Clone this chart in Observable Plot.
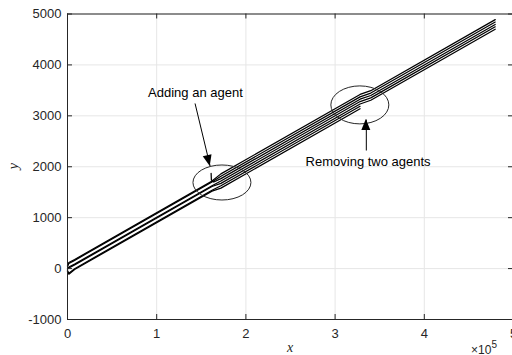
<!DOCTYPE html>
<html>
<head>
<meta charset="utf-8">
<script src="https://cdn.jsdelivr.net/npm/d3@7"></script>
<script src="https://cdn.jsdelivr.net/npm/@observablehq/plot@0.6"></script>
<style>
  html, body { margin: 0; padding: 0; background: #fff; overflow: hidden; }
  svg { display: block; }
</style>
</head>
<body>
<div id="chart"></div>
<script>
// Axis ticks and their labels
const xTicks = [0, 100000, 200000, 300000, 400000, 500000];
const xTickLabels = ["0", "1", "2", "3", "4", "5"];
const yTicks = [-1000, 0, 1000, 2000, 3000, 4000, 5000];
const yTickLabels = ["-1000", "0", "1000", "2000", "3000", "4000", "5000"];

// Trajectories of the original agents (x shared by all of them)
const agentX = [0, 1500, 8000, 162000, 172000, 328000, 340000, 479500];
const agent1Y = [60, 120, 178, 1718, 1860, 3420, 3494, 4889];
const agent2Y = [40, 100, 162, 1702, 1813, 3373, 3447, 4842];
const agent3Y = [0, 30, 88, 1628, 1720, 3280, 3353, 4748];
const agent4Y = [-10, 10, 72, 1612, 1673, 3233, 3306, 4701];
// The two agents removed near x = 3.28e5
const removedX = [0, 1500, 8000, 162000, 172000, 328000];
const agent5Y = [-40, -90, -2, 1538, 1627, 3187];
const agent6Y = [-60, -110, -18, 1522, 1580, 3140];
// The agent added near x = 1.61e5
const addedX = [161000, 161300, 164000, 172000, 328000, 340000, 479500];
const addedY = [1870, 1740, 1700, 1767, 3327, 3400, 4795];

// Annotations: ellipse centres / half-axes, arrows and captions (data units)
const ellipseCenters = [[173700, 1681], [328300, 3205]];
const ellipseHalfAxes = [[32500, 344], [32500, 373]];
const arrowStarts = [[143000, 3243], [335000, 2319]];
const arrowEnds = [[160000, 2006], [335000, 2927]];
const noteTexts = ["Adding an agent", "Removing two agents"];
const notePositions = [[143400, 3458], [337000, 2102]];

const rows = [];
const addLine = (name, xs, ys) => xs.forEach((x, i) => rows.push({agent: name, x, y: ys[i]}));
addLine("a1", agentX, agent1Y);
addLine("a2", agentX, agent2Y);
addLine("a3", agentX, agent3Y);
addLine("a4", agentX, agent4Y);
addLine("a5", removedX, agent5Y);
addLine("a6", removedX, agent6Y);
addLine("a7", addedX, addedY);

const ink = "#262626";
const font = "'Liberation Sans', Arial, Helvetica, sans-serif";
const tickLenY = 98;    // 5 px along y
const tickLenX = 5600;  // 5 px along x

const chart = Plot.plot({
  width: 512,
  height: 355,
  marginTop: 13.5,
  marginBottom: 36,
  marginLeft: 67,
  marginRight: 0,
  style: {fontFamily: font, fontSize: "13px", color: ink, background: "#fff", overflow: "hidden"},
  x: {
    domain: [0, 500000],
    range: [67, 513],
    ticks: xTicks,
    tickFormat: d => xTickLabels[xTicks.indexOf(d)],
    tickSize: 0,
    tickPadding: 9,
    label: null
  },
  y: {
    domain: [-1000, 5000],
    ticks: yTicks,
    tickFormat: d => yTickLabels[yTicks.indexOf(d)],
    tickSize: 0,
    tickPadding: 6,
    label: null
  },
  marks: [
    Plot.ruleX(xTicks, {x: d => d, stroke: "#e6e6e6", strokeWidth: 1}),
    Plot.ruleY(yTicks, {y: d => d, stroke: "#e6e6e6", strokeWidth: 1}),
    Plot.line(rows, {x: "x", y: "y", z: "agent", stroke: "#000", strokeWidth: 1.25}),
    Plot.frame({stroke: ink, strokeWidth: 1}),
    // inward ticks on all four sides
    Plot.ruleX(xTicks, {x: d => d, y1: -1000, y2: -1000 + tickLenY, stroke: ink}),
    Plot.ruleX(xTicks, {x: d => d, y1: 5000 - tickLenY, y2: 5000, stroke: ink}),
    Plot.ruleY(yTicks, {y: d => d, x1: 0, x2: tickLenX, stroke: ink}),
    Plot.ruleY(yTicks, {y: d => d, x1: 500000 - tickLenX, x2: 500000, stroke: ink}),
    // annotation arrows (shafts)
    Plot.link(arrowStarts.map((s, i) => ({s, e: arrowEnds[i]})), {
      x1: d => d.s[0], y1: d => d.s[1], x2: d => d.e[0], y2: d => d.e[1],
      stroke: "#000", strokeWidth: 1
    }),
    Plot.text(noteTexts.map((t, i) => ({t, p: notePositions[i]})), {
      x: d => d.p[0], y: d => d.p[1], text: d => d.t,
      fill: "#000", fontSize: 13, textAnchor: "middle"
    })
  ]
});

document.getElementById("chart").appendChild(chart);

const svg = d3.select(chart.tagName.toLowerCase() === "svg" ? chart : chart.querySelector("svg"));
const sx = chart.scale("x").apply;
const sy = chart.scale("y").apply;

// circles marking the events
ellipseCenters.forEach(([cx, cy], i) => {
  const [hx, hy] = ellipseHalfAxes[i];
  svg.append("ellipse")
    .attr("cx", sx(cx)).attr("cy", sy(cy))
    .attr("rx", sx(cx + hx) - sx(cx)).attr("ry", sy(cy) - sy(cy + hy))
    .attr("fill", "none").attr("stroke", ink).attr("stroke-width", 1);
});

// filled arrow heads
arrowEnds.forEach(([ex, ey], i) => {
  const [bx, by] = arrowStarts[i];
  const x2 = sx(ex), y2 = sy(ey), x1 = sx(bx), y1 = sy(by);
  const a = Math.atan2(y2 - y1, x2 - x1);
  const len = 11, half = 4.5;
  const px = x2 - len * Math.cos(a), py = y2 - len * Math.sin(a);
  const pts = [
    [x2, y2],
    [px + half * Math.sin(a), py - half * Math.cos(a)],
    [px - half * Math.sin(a), py + half * Math.cos(a)]
  ];
  svg.append("polygon").attr("points", pts.map(p => p.join(",")).join(" ")).attr("fill", "#000");
});

// axis titles and exponent
svg.append("text").attr("x", (sx(0) + sx(500000)) / 2).attr("y", 351.5)
  .attr("text-anchor", "middle").attr("font-family", "'Liberation Serif', 'Times New Roman', serif")
  .attr("font-style", "italic").attr("font-size", 14).attr("fill", ink).text("x");
svg.append("text").attr("transform", `translate(18,${(sy(-1000) + sy(5000)) / 2}) rotate(-90)`)
  .attr("text-anchor", "middle").attr("font-family", "'Liberation Serif', 'Times New Roman', serif")
  .attr("font-style", "italic").attr("font-size", 14).attr("fill", ink).text("y");
const ex = svg.append("text").attr("x", 484).attr("y", 354).attr("font-family", font)
  .attr("font-size", 12).attr("fill", ink);
ex.append("tspan").text("\u00d710");
ex.append("tspan").attr("dy", -6).attr("font-size", 10).text("5");
</script>
</body>
</html>
